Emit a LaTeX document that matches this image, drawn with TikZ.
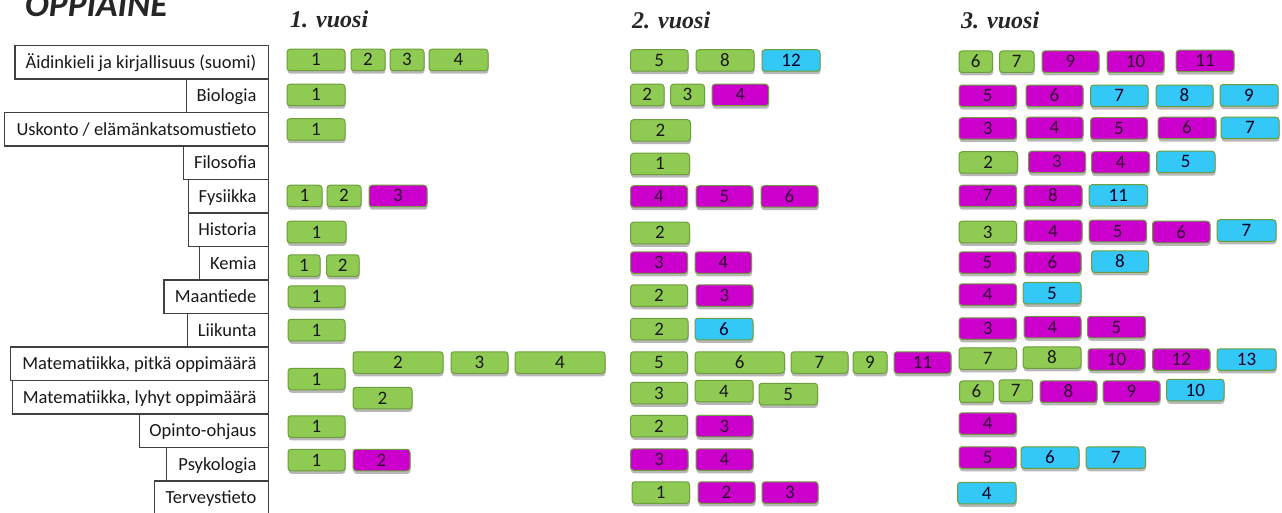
\documentclass[tikz,border=0pt]{standalone}
\usepackage{fontspec}
\newfontfamily\carlito{Carlito}
\newfontfamily\yearfont{Liberation Serif}
\usetikzlibrary{shadows}
\definecolor{chipgreen}{HTML}{8FCB52}
\definecolor{chipmag}{HTML}{CC00CC}
\definecolor{chipcyan}{HTML}{33C8F5}
\definecolor{chipborder}{HTML}{6E9E3C}
\definecolor{boxborder}{HTML}{404040}
\definecolor{darktext}{HTML}{262626}
\tikzset{
  chip/.style={rounded corners=3pt, draw=chipborder, line width=1pt,
    minimum height=21.5pt, inner sep=0pt,
    font=\carlito\fontsize{19}{21}\selectfont, text height=12pt, text depth=0pt,
    drop shadow={shadow xshift=0.5pt, shadow yshift=-3pt, opacity=0.28, fill=black}},
  gchip/.style={chip, fill=chipgreen, text=black!90},
  mchip/.style={chip, fill=chipmag, text=black!75!chipmag},
  cchip/.style={chip, fill=chipcyan, text=black!85!blue},
  lbox/.style={draw=boxborder, fill=white, line width=1.1pt, minimum height=33.5pt, inner sep=0pt},
  ltext/.style={inner sep=0pt, font=\carlito\fontsize{18.5}{20}\selectfont, text=black!90},
  yeartitle/.style={inner sep=0pt, font=\yearfont\bfseries\itshape\fontsize{24}{26}\selectfont, text=darktext},
  maintitle/.style={inner sep=0pt, font=\carlito\bfseries\itshape\fontsize{35.5}{38}\selectfont, text=darktext}
}
\newcommand\chip[6]{\node[#5chip, minimum width={#3-#2}] (#1) at ({(#2+#3)/2},#4) {#6};}
\begin{document}
\begin{tikzpicture}[x=1pt,y=-1pt]
\useasboundingbox (0,0) rectangle (1282,513);
\fill[white] (0,0) rectangle (1282,513);
% titles
\node[maintitle, anchor=base west] (title) at (25,17) {OPPIAINE};
\node[yeartitle, anchor=base west] (year1) at (290,27.5) {1. vuosi};
\node[yeartitle, anchor=base west] (year2) at (632,28.5) {2. vuosi};
\node[yeartitle, anchor=base west] (year3) at (961,28.5) {3. vuosi};
% subject boxes
\foreach \i/\l/\t in {1/15.5/{Äidinkieli ja kirjallisuus (suomi)},
  2/187/{Biologia}, 3/5/{Uskonto / elämänkatsomustieto}, 4/183.7/{Filosofia},
  5/189/{Fysiikka}, 6/189/{Historia}, 7/200/{Kemia}, 8/164.5/{Maantiede},
  9/187.8/{Liikunta}, 10/11.4/{Matematiikka, pitkä oppimäärä},
  11/13/{Matematiikka, lyhyt oppimäärä}, 12/140/{Opinto-ohjaus},
  13/167.3/{Psykologia}, 14/155/{Terveystieto}}{
  \pgfmathsetmacro\yc{45.5+33.5*(\i-0.5)}
  \node[lbox, minimum width={268.6-\l}, anchor=east] (b\i) at (268.6,\yc) {};
  \node[ltext, anchor=base east] (t\i) at (256.6,\yc+6) {\t};
}
% Year 1
\chip{y1r1a}{287}{345}{60}{g}{1}
\chip{y1r1b}{351}{385}{60}{g}{2}
\chip{y1r1c}{390}{424}{60}{g}{3}
\chip{y1r1d}{429}{488}{60}{g}{4}
\chip{y1r2a}{287}{345}{95}{g}{1}
\chip{y1r3a}{287}{345}{129.5}{g}{1}
\chip{y1r5a}{287}{322}{196}{g}{1}
\chip{y1r5b}{327}{361}{196}{g}{2}
\chip{y1r5c}{369}{427}{196}{m}{3}
\chip{y1r6a}{287}{346}{232}{g}{1}
\chip{y1r7a}{288}{320}{265.5}{g}{1}
\chip{y1r7b}{326.5}{359}{265.5}{g}{2}
\chip{y1r8a}{288}{345}{296.5}{g}{1}
\chip{y1r9a}{288}{345}{330}{g}{1}
\chip{y1r10a}{288}{345}{379}{g}{1}
\chip{y1r10b}{353}{443}{362.5}{g}{2}
\chip{y1r10c}{451}{508}{362.5}{g}{3}
\chip{y1r10d}{515}{605}{362.5}{g}{4}
\chip{y1r11b}{353}{412}{398}{g}{2}
\chip{y1r12a}{288}{345}{426.5}{g}{1}
\chip{y1r13a}{288}{345}{460}{g}{1}
\chip{y1r13b}{353}{410}{460}{m}{2}
% Year 2
\chip{y2r1a}{630.5}{688}{60.5}{g}{5}
\chip{y2r1b}{696}{754}{60.5}{g}{8}
\chip{y2r1c}{762}{820}{60.5}{c}{12}
\chip{y2r2a}{630.5}{664}{95}{g}{2}
\chip{y2r2b}{670.5}{704.5}{95}{g}{3}
\chip{y2r2c}{712}{768.5}{95}{m}{4}
\chip{y2r3a}{630.5}{690.5}{130.5}{g}{2}
\chip{y2r4a}{630.5}{689.5}{164}{g}{1}
\chip{y2r5a}{630.5}{687.5}{196.5}{m}{4}
\chip{y2r5b}{696}{753}{196.5}{m}{5}
\chip{y2r5c}{761}{818}{196.5}{m}{6}
\chip{y2r6a}{630.5}{689.5}{233}{g}{2}
\chip{y2r7a}{630.5}{687.5}{262.5}{m}{3}
\chip{y2r7b}{695}{751.5}{262.5}{m}{4}
\chip{y2r8a}{630.5}{687.5}{295.5}{g}{2}
\chip{y2r8b}{696}{753}{295.5}{m}{3}
\chip{y2r9a}{630.5}{688}{329}{g}{2}
\chip{y2r9b}{695}{753}{329}{c}{6}
\chip{y2r10a}{630.5}{687.5}{362.5}{g}{5}
\chip{y2r10b}{695}{784.5}{362.5}{g}{6}
\chip{y2r10c}{791}{848}{362.5}{g}{7}
\chip{y2r10d}{853}{887}{362.5}{g}{9}
\chip{y2r10e}{894}{951}{362.5}{m}{11}
\chip{y2r11a}{630.5}{687.5}{393}{g}{3}
\chip{y2r11b}{695}{753}{391}{g}{4}
\chip{y2r11c}{759}{817.5}{394}{g}{5}
\chip{y2r12a}{630.5}{687.5}{426}{g}{2}
\chip{y2r12b}{696}{753}{426}{m}{3}
\chip{y2r13a}{630.5}{688}{459.5}{m}{3}
\chip{y2r13b}{696}{753}{459.5}{m}{4}
\chip{y2r14a}{632}{689.5}{492.5}{g}{1}
\chip{y2r14b}{698}{755}{492.5}{m}{2}
\chip{y2r14c}{762}{818}{492.5}{m}{3}
% Year 3
\chip{y3r1a}{959}{992.5}{61.7}{g}{6}
\chip{y3r1b}{999.5}{1034}{61.7}{g}{7}
\chip{y3r1c}{1042}{1099}{61.7}{m}{9}
\chip{y3r1d}{1107}{1164}{61.7}{m}{10}
\chip{y3r1e}{1176}{1234}{61}{m}{11}
\chip{y3r2a}{959}{1016.5}{95.8}{m}{5}
\chip{y3r2b}{1026}{1083}{95.8}{m}{6}
\chip{y3r2c}{1090.5}{1148}{95.8}{c}{7}
\chip{y3r2d}{1156}{1213}{95.8}{c}{8}
\chip{y3r2e}{1220}{1278}{95.3}{c}{9}
\chip{y3r3a}{959}{1016.5}{128.5}{m}{3}
\chip{y3r3b}{1026}{1083}{128}{m}{4}
\chip{y3r3c}{1090.5}{1147.5}{128.5}{m}{5}
\chip{y3r3d}{1158}{1216}{128}{m}{6}
\chip{y3r3e}{1221}{1279}{128}{c}{7}
\chip{y3r4a}{959}{1017.5}{162.5}{g}{2}
\chip{y3r4b}{1028.5}{1085.5}{162}{m}{3}
\chip{y3r4c}{1091.5}{1149.5}{162.5}{m}{4}
\chip{y3r4d}{1156.5}{1215}{162}{c}{5}
\chip{y3r5a}{959}{1016.5}{196}{m}{7}
\chip{y3r5b}{1024}{1082}{196}{m}{8}
\chip{y3r5c}{1089}{1147.5}{195.5}{c}{11}
\chip{y3r6a}{959}{1016.5}{232}{g}{3}
\chip{y3r6b}{1024}{1082}{231}{m}{4}
\chip{y3r6c}{1089}{1146.5}{231}{m}{5}
\chip{y3r6d}{1152.5}{1210}{232}{m}{6}
\chip{y3r6e}{1217}{1276}{230.5}{c}{7}
\chip{y3r7a}{959}{1016}{262.5}{m}{5}
\chip{y3r7b}{1024}{1081}{262.5}{m}{6}
\chip{y3r7c}{1091.5}{1148.5}{261.5}{c}{8}
\chip{y3r8a}{959}{1016.5}{294.5}{m}{4}
\chip{y3r8b}{1023}{1081}{293}{c}{5}
\chip{y3r9a}{959}{1016.5}{328.5}{m}{3}
\chip{y3r9b}{1024}{1081}{327}{m}{4}
\chip{y3r9c}{1087.5}{1145.5}{327}{m}{5}
\chip{y3r10a}{959}{1016.5}{358.5}{g}{7}
\chip{y3r10b}{1023}{1081}{357.5}{g}{8}
\chip{y3r10c}{1088}{1145}{359.5}{m}{10}
\chip{y3r10d}{1152.5}{1210}{359.5}{m}{12}
\chip{y3r10e}{1217}{1276}{359.5}{c}{13}
\chip{y3r11a}{959.5}{993.5}{391.7}{g}{6}
\chip{y3r11b}{999}{1032.5}{390.5}{g}{7}
\chip{y3r11c}{1040}{1097}{391.7}{m}{8}
\chip{y3r11d}{1103}{1160}{391.7}{m}{9}
\chip{y3r11e}{1166.5}{1224}{390}{c}{10}
\chip{y3r12a}{959}{1016.5}{423.5}{m}{4}
\chip{y3r13a}{959}{1016.5}{457.5}{m}{5}
\chip{y3r13b}{1021}{1079}{457.5}{c}{6}
\chip{y3r13c}{1086}{1145.5}{457.5}{c}{7}
\chip{y3r14a}{957.5}{1016}{493}{c}{4}
\end{tikzpicture}
\end{document}
